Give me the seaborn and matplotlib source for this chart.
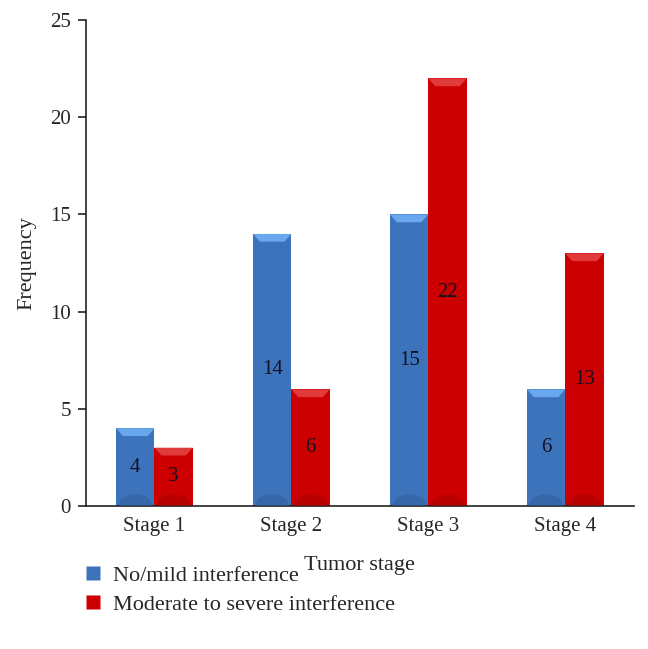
import numpy as np
import pandas as pd
import seaborn as sns
import matplotlib.pyplot as plt
from matplotlib.patches import Polygon, Ellipse
from matplotlib.lines import Line2D

stages = ['Stage 1', 'Stage 2', 'Stage 3', 'Stage 4']
no_mild = [4, 14, 15, 6]
moderate = [3, 6, 22, 13]
series = ['No/mild interference', 'Moderate to severe interference']
colors = ['#3d73bb', '#cc0000']

df = pd.DataFrame({
    'stage': stages * 2,
    'freq': no_mild + moderate,
    'group': [series[0]] * 4 + [series[1]] * 4,
})

sns.set_style('white')
plt.rcParams['font.family'] = ['Liberation Serif', 'DejaVu Serif']

fig = plt.figure(figsize=(6.48, 6.49), dpi=100)
ax = fig.add_axes([0.1327, 0.2203, 0.8453, 0.7487])

sns.barplot(data=df, x='stage', y='freq', hue='group', palette=colors,
            width=0.56, ax=ax, legend=False, saturation=1, linewidth=0)

# bevel look: light cap on top, darker rounded bottom
light = {colors[0]: '#6aa8ee', colors[1]: '#e03a3a'}
dark = {colors[0]: '#2f5d99', colors[1]: '#a80000'}
for i, p in enumerate(ax.patches):
    c = colors[0] if i < 4 else colors[1]
    x0, w, h = p.get_x(), p.get_width(), p.get_height()
    cap = 0.4
    ax.add_patch(Polygon([(x0, h), (x0 + w, h), (x0 + w * 0.82, h - cap),
                          (x0 + w * 0.18, h - cap)], closed=True,
                         facecolor=light[c], edgecolor='none', zorder=3))
    ax.add_patch(Ellipse((x0 + w / 2, 0.1), w * 0.85, 1.0,
                         facecolor=dark[c], edgecolor='none', alpha=0.5, zorder=3))
    ax.text(x0 + w / 2, h / 2, str(int(h)), ha='center', va='center',
            fontsize=15, color='#111122', zorder=4)

ax.set_ylim(0, 25)
ax.set_xlim(-0.5, 3.5)
ax.set_yticks([0, 5, 10, 15, 20, 25])
ax.set_xticks([-0.5, 0.5, 1.5, 2.5, 3.5], minor=True)
ax.tick_params(axis='x', which='major', length=0, pad=8, labelsize=15)
ax.tick_params(axis='x', which='minor', length=6, width=1.2, color='#222222', direction='out')
ax.tick_params(axis='y', length=6, width=1.2, color='#222222', direction='out',
               labelsize=15, left=True, pad=5)
for s in ['top', 'right']:
    ax.spines[s].set_visible(False)
for s in ['left', 'bottom']:
    ax.spines[s].set_color('#222222')
    ax.spines[s].set_linewidth(1.2)
ax.set_xlabel('Tumor stage', fontsize=16, labelpad=14)
ax.set_ylabel('Frequency', fontsize=16, labelpad=10)

handles = [Line2D([], [], marker='s', linestyle='none', markersize=10,
                  markerfacecolor=c, markeredgecolor='none') for c in colors]
fig.legend(handles, series, loc='upper left', bbox_to_anchor=(0.095, 0.16),
           frameon=False, fontsize=16, handletextpad=0.4, labelspacing=0.4,
           handlelength=1.0)

fig.savefig('out.png', dpi=100)
